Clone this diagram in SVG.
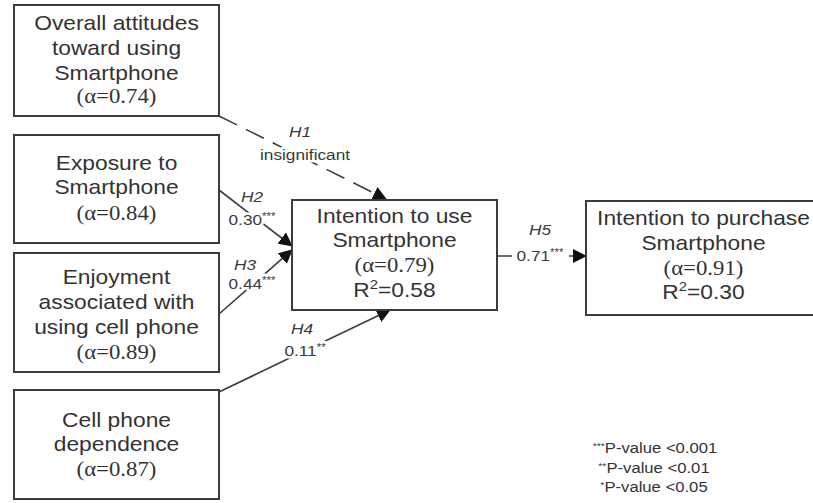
<svg xmlns="http://www.w3.org/2000/svg" width="813" height="503" viewBox="0 0 813 503">
  <style>
    .box { fill: #ffffff; stroke: #3c3c3c; stroke-width: 2; }
    .t { font-family: "Liberation Sans", Arial, sans-serif; font-size: 20px; fill: #333333; text-anchor: middle; }
    .a { font-family: "Liberation Serif", "Times New Roman", serif; font-size: 20px; fill: #333333; text-anchor: middle; }
    .lbl, .lbl-i { font-family: "Liberation Sans", Arial, sans-serif; font-size: 15px; fill: #3a3a3a; text-anchor: middle;
                   stroke: #ffffff; stroke-width: 5px; stroke-linejoin: round; paint-order: stroke; }
    .lbl-i { font-style: italic; }
    .leg { font-family: "Liberation Sans", Arial, sans-serif; font-size: 14.5px; fill: #333333; text-anchor: middle; }
    .edge { stroke: #3c3c3c; stroke-width: 1.6; fill: none; marker-end: url(#arrow); }
    .dash { stroke-dasharray: 20 10; }
  </style>
  <defs>
    <marker id="arrow" markerUnits="userSpaceOnUse" markerWidth="14" markerHeight="14" refX="13" refY="7" orient="auto">
      <path d="M0,0 L14,7 L0,14 z" fill="#111111"/>
    </marker>
  </defs>

  <rect width="813" height="503" fill="#ffffff"/>

  <!-- connectors -->
  <g id="connectors">
    <line class="edge dash" x1="219" y1="116" x2="386" y2="199"/>
    <line class="edge" x1="219" y1="190" x2="292" y2="246"/>
    <line class="edge" x1="219" y1="314" x2="292" y2="250"/>
    <line class="edge" x1="219" y1="392" x2="390" y2="310"/>
    <line class="edge" x1="497" y1="256" x2="586" y2="256"/>
  </g>

  <!-- path labels -->
  <g id="labels">
    <text class="lbl-i" transform="translate(300,137) scale(1.15,1)">H1</text>
    <text class="lbl" transform="translate(305,160) scale(1.15,1)">insignificant</text>
    <text class="lbl-i" transform="translate(252,202) scale(1.15,1)">H2</text>
    <text class="lbl" transform="translate(252,225) scale(1.15,1)">0.30<tspan font-size="10" dy="-5">***</tspan></text>
    <text class="lbl-i" transform="translate(245,270) scale(1.15,1)">H3</text>
    <text class="lbl" transform="translate(252,289) scale(1.15,1)">0.44<tspan font-size="10" dy="-5">***</tspan></text>
    <text class="lbl-i" transform="translate(302,334) scale(1.15,1)">H4</text>
    <text class="lbl" transform="translate(305,356) scale(1.15,1)">0.11<tspan font-size="10" dy="-5">**</tspan></text>
    <text class="lbl-i" transform="translate(540,235) scale(1.15,1)">H5</text>
    <rect x="512" y="246" width="57" height="17" fill="#ffffff"/>
    <text class="lbl" transform="translate(540,261) scale(1.15,1)">0.71<tspan font-size="10" dy="-5">***</tspan></text>
  </g>

  <!-- construct nodes -->
  <g id="attitudes">
    <rect class="box" x="14" y="5" width="205" height="111"/>
    <text class="t" transform="translate(116.5,30) scale(1.14,1)">Overall attitudes</text>
    <text class="t" transform="translate(116.5,55) scale(1.14,1)">toward using</text>
    <text class="t" transform="translate(116.5,80) scale(1.14,1)">Smartphone</text>
    <text class="a" transform="translate(116.5,103) scale(1.14,1)">(α=0.74)</text>
  </g>

  <g id="exposure">
    <rect class="box" x="14" y="135" width="205" height="108"/>
    <text class="t" transform="translate(116.5,170) scale(1.14,1)">Exposure to</text>
    <text class="t" transform="translate(116.5,194) scale(1.14,1)">Smartphone</text>
    <text class="a" transform="translate(116.5,220) scale(1.14,1)">(α=0.84)</text>
  </g>

  <g id="enjoyment">
    <rect class="box" x="14" y="253" width="205" height="119"/>
    <text class="t" transform="translate(116.5,284) scale(1.14,1)">Enjoyment</text>
    <text class="t" transform="translate(116.5,309) scale(1.14,1)">associated with</text>
    <text class="t" transform="translate(116.5,334) scale(1.14,1)">using cell phone</text>
    <text class="a" transform="translate(116.5,359) scale(1.14,1)">(α=0.89)</text>
  </g>

  <g id="dependence">
    <rect class="box" x="14" y="390" width="205" height="109"/>
    <text class="t" transform="translate(116.5,427) scale(1.14,1)">Cell phone</text>
    <text class="t" transform="translate(116.5,451) scale(1.14,1)">dependence</text>
    <text class="a" transform="translate(116.5,476) scale(1.14,1)">(α=0.87)</text>
  </g>

  <g id="intention-use">
    <rect class="box" x="292" y="200" width="205" height="110"/>
    <text class="t" transform="translate(394.5,223) scale(1.14,1)">Intention to use</text>
    <text class="t" transform="translate(394.5,247) scale(1.14,1)">Smartphone</text>
    <text class="a" transform="translate(394.5,272) scale(1.14,1)">(α=0.79)</text>
    <text class="t" transform="translate(394.5,297) scale(1.14,1)">R<tspan font-size="13" dy="-8">2</tspan><tspan dy="8">=0.58</tspan></text>
  </g>

  <g id="intention-purchase">
    <rect class="box" x="586" y="201" width="236" height="114"/>
    <text class="t" transform="translate(703.5,225) scale(1.14,1)">Intention to purchase</text>
    <text class="t" transform="translate(703.5,250) scale(1.14,1)">Smartphone</text>
    <text class="a" transform="translate(703.5,275) scale(1.14,1)">(α=0.91)</text>
    <text class="t" transform="translate(703.5,299) scale(1.14,1)">R<tspan font-size="13" dy="-8">2</tspan><tspan dy="8">=0.30</tspan></text>
  </g>

  <!-- significance legend -->
  <g id="legend">
    <text class="leg" transform="translate(655,453) scale(1.15,1)"><tspan font-size="9" dy="-4">***</tspan><tspan dy="4">P-value &lt;0.001</tspan></text>
    <text class="leg" transform="translate(654,473) scale(1.15,1)"><tspan font-size="9" dy="-4">**</tspan><tspan dy="4">P-value &lt;0.01</tspan></text>
    <text class="leg" transform="translate(654,492) scale(1.15,1)"><tspan font-size="9" dy="-4">*</tspan><tspan dy="4">P-value &lt;0.05</tspan></text>
  </g>
</svg>
